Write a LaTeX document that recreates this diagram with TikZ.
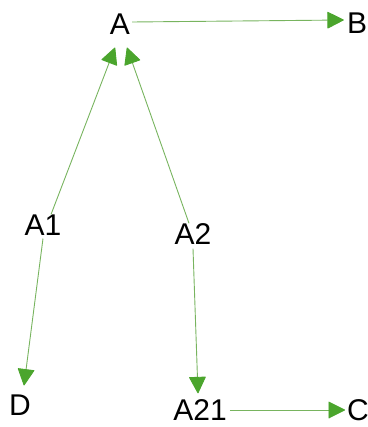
\documentclass[tikz,border=0pt]{standalone}
\usepackage{fontspec}
\setmainfont{Liberation Sans}
\usetikzlibrary{arrows.meta}
\definecolor{linegreen}{RGB}{120,180,95}
\definecolor{tipgreen}{RGB}{75,165,45}
\tikzset{
  lbl/.style={inner sep=0pt, font=\fontsize{30}{36}\selectfont, text=black},
  conn/.style={draw=linegreen, line width=0.9pt,
    -{Triangle[length=17pt,width=17pt,fill=tipgreen,color=tipgreen,round]}}
}
\begin{document}
\begin{tikzpicture}[x=1pt,y=-1pt]
\useasboundingbox (0,0) rectangle (367,427);
\node[lbl] (A) at (120,24) {A};
\node[lbl] (B) at (357,23) {B};
\node[lbl] (A1) at (43,225) {A1};
\node[lbl] (A2) at (193,234) {A2};
\node[lbl] (D) at (20,405) {D};
\node[lbl] (A21) at (200,410) {A21};
\node[lbl] (C) at (358,410) {C};
\draw[conn] ([xshift=2pt,yshift=2pt]A.east) -- ([xshift=-3pt,yshift=3pt]B.west);
\draw[conn] ([xshift=8pt]A1.north) -- ([xshift=-5pt,yshift=-13pt]A.south);
\draw[conn] ([xshift=-4pt]A2.north) -- ([xshift=7pt,yshift=-13pt]A.south);
\draw[conn] ([yshift=-3pt]A1.south) -- ([xshift=4pt,yshift=9pt]D.north);
\draw[conn] ([yshift=-4pt]A2.south) -- ([xshift=-2pt,yshift=6pt]A21.north);
\draw[conn] ([xshift=3pt]A21.east) -- ([xshift=-2pt]C.west);
\end{tikzpicture}
\end{document}
